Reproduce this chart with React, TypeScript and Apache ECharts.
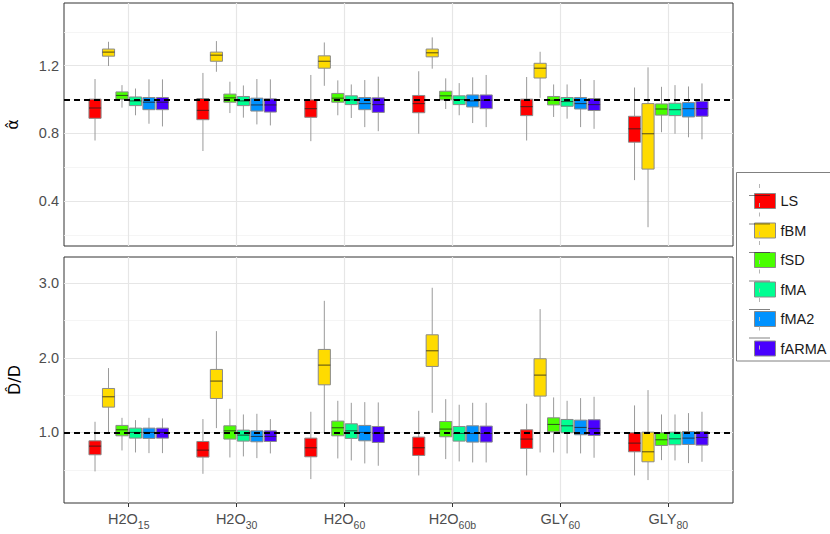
import React, { useEffect, useRef } from "react";
import * as echarts from "echarts";

// ---------- data ----------
const catMain = ["H2O", "H2O", "H2O", "H2O", "GLY", "GLY"];
const catSub = ["15", "30", "60", "60b", "60", "80"];
const methods = ["LS", "fBM", "fSD", "fMA", "fMA2", "fARMA"];
const colors = ["#FF0000", "#FFDB00", "#49FF00", "#00FF92", "#0092FF", "#4900FF"];

// each row: [lower whisker, Q1, median, Q3, upper whisker]
const alphaLS = [
  [0.758, 0.889, 0.95, 1.002, 1.121],
  [0.696, 0.881, 0.936, 1.006, 1.157],
  [0.754, 0.895, 0.946, 0.998, 1.145],
  [0.798, 0.922, 0.976, 1.024, 1.167],
  [0.758, 0.905, 0.958, 1.002, 1.133],
  [0.524, 0.748, 0.827, 0.901, 1.071],
];
const alphaFBM = [
  [1.198, 1.256, 1.28, 1.298, 1.341],
  [1.164, 1.226, 1.262, 1.28, 1.345],
  [1.081, 1.185, 1.226, 1.258, 1.337],
  [1.182, 1.252, 1.276, 1.298, 1.367],
  [1.01, 1.127, 1.185, 1.214, 1.282],
  [0.246, 0.589, 0.798, 0.976, 1.19],
];
const alphaFSD = [
  [0.952, 1.002, 1.024, 1.045, 1.085],
  [0.92, 0.984, 1.01, 1.032, 1.105],
  [0.907, 0.984, 1.008, 1.036, 1.113],
  [0.944, 0.998, 1.022, 1.049, 1.125],
  [0.897, 0.968, 0.996, 1.018, 1.089],
  [0.807, 0.908, 0.944, 0.974, 1.075],
];
const alphaFMA = [
  [0.907, 0.964, 0.992, 1.015, 1.065],
  [0.893, 0.964, 0.992, 1.018, 1.083],
  [0.891, 0.97, 0.998, 1.022, 1.089],
  [0.907, 0.97, 1.0, 1.022, 1.097],
  [0.887, 0.96, 0.988, 1.012, 1.089],
  [0.798, 0.905, 0.94, 0.978, 1.085],
];
const alphaFMA2 = [
  [0.857, 0.94, 0.984, 1.012, 1.119],
  [0.853, 0.932, 0.968, 1.008, 1.121],
  [0.837, 0.94, 0.976, 1.012, 1.115],
  [0.861, 0.956, 0.992, 1.027, 1.131],
  [0.837, 0.944, 0.976, 1.012, 1.121],
  [0.777, 0.897, 0.946, 0.982, 1.077],
];
const alphaFARMA = [
  [0.841, 0.94, 0.984, 1.012, 1.119],
  [0.847, 0.926, 0.968, 1.004, 1.119],
  [0.813, 0.924, 0.97, 1.01, 1.135],
  [0.837, 0.946, 0.996, 1.027, 1.145],
  [0.827, 0.935, 0.97, 1.006, 1.115],
  [0.765, 0.901, 0.946, 0.99, 1.095],
];

const dLS = [
  [0.478, 0.701, 0.817, 0.888, 1.143],
  [0.446, 0.67, 0.763, 0.879, 1.179],
  [0.375, 0.674, 0.795, 0.924, 1.277],
  [0.424, 0.692, 0.795, 0.938, 1.29],
  [0.424, 0.786, 0.911, 1.036, 1.384],
  [0.424, 0.741, 0.857, 0.996, 1.362],
];
const dFBM = [
  [1.0, 1.339, 1.478, 1.589, 1.862],
  [1.058, 1.455, 1.688, 1.844, 2.357],
  [1.0, 1.638, 1.902, 2.112, 2.763],
  [1.263, 1.884, 2.094, 2.308, 2.938],
  [0.732, 1.487, 1.768, 1.987, 2.652],
  [0.362, 0.607, 0.741, 1.004, 1.567],
];
const dFSD = [
  [0.759, 0.955, 1.036, 1.094, 1.196],
  [0.665, 0.911, 1.022, 1.089, 1.317],
  [0.652, 0.955, 1.063, 1.152, 1.424],
  [0.643, 0.942, 1.045, 1.147, 1.446],
  [0.732, 1.009, 1.107, 1.196, 1.469],
  [0.629, 0.826, 0.902, 0.996, 1.241],
];
const dFMA = [
  [0.732, 0.924, 1.0, 1.058, 1.165],
  [0.679, 0.884, 0.964, 1.031, 1.241],
  [0.625, 0.92, 1.022, 1.116, 1.397],
  [0.612, 0.884, 0.987, 1.08, 1.371],
  [0.719, 0.996, 1.089, 1.174, 1.424],
  [0.625, 0.835, 0.915, 1.004, 1.241],
];
const dFMA2 = [
  [0.723, 0.92, 1.0, 1.058, 1.196],
  [0.656, 0.875, 0.946, 1.022, 1.25],
  [0.585, 0.888, 1.0, 1.094, 1.406],
  [0.598, 0.871, 0.987, 1.089, 1.397],
  [0.719, 0.969, 1.067, 1.165, 1.46],
  [0.589, 0.839, 0.924, 1.013, 1.259],
];
const dFARMA = [
  [0.723, 0.924, 1.0, 1.058, 1.188],
  [0.719, 0.879, 0.946, 1.022, 1.179],
  [0.554, 0.866, 0.991, 1.08, 1.402],
  [0.598, 0.871, 0.987, 1.085, 1.397],
  [0.661, 0.96, 1.054, 1.17, 1.478],
  [0.607, 0.83, 0.933, 1.013, 1.277],
];

const alphaTicks = [0.4, 0.8, 1.2];
const alphaMinor = [0.2, 0.6, 1.0, 1.4];
const dTicks = [1.0, 2.0, 3.0];
const dMinor = [0.5, 1.5, 2.5];
const refValue = 1.0;

// ---------- styling constants ----------
const DODGE = 0.125;
const BOX_W = 0.1125;
const FONT = "'Liberation Sans', Arial, Helvetica, sans-serif";
const TITLE_FONT = "'DejaVu Sans', sans-serif";
const TICK_COLOR = "#4d4d4d";
const MAJOR = "#e6e6e6";
const MINOR = "#f2f2f2";

const alphaSets = [alphaLS, alphaFBM, alphaFSD, alphaFMA, alphaFMA2, alphaFARMA];
const dSets = [dLS, dFBM, dFSD, dFMA, dFMA2, dFARMA];

function makeRender(color: string) {
  return (params: any, api: any) => {
    const x = api.value(0);
    const lo = api.coord([x, api.value(1)]);
    const q1 = api.coord([x, api.value(2)]);
    const md = api.coord([x, api.value(3)]);
    const q3 = api.coord([x, api.value(4)]);
    const hi = api.coord([x, api.value(5)]);
    const w = api.size([BOX_W, 0])[0];
    const cx = lo[0];
    const wh = { stroke: "#9a9a9a", lineWidth: 1 };
    return {
      type: "group",
      children: [
        { type: "line", shape: { x1: cx, y1: hi[1], x2: cx, y2: q3[1] }, style: wh },
        { type: "line", shape: { x1: cx, y1: q1[1], x2: cx, y2: lo[1] }, style: wh },
        {
          type: "rect",
          shape: { x: cx - w / 2, y: q3[1], width: w, height: q1[1] - q3[1] },
          style: { fill: color, stroke: "#8a8a8a", lineWidth: 1 },
        },
        {
          type: "line",
          shape: { x1: cx - w / 2, y1: md[1], x2: cx + w / 2, y2: md[1] },
          style: { stroke: "rgba(30,30,30,0.7)", lineWidth: 1.1 },
        },
      ],
    };
  };
}

function boxSeries(sets: number[][][], gi: number) {
  return sets.map((rows, mi) => ({
    type: "custom",
    name: methods[mi],
    xAxisIndex: gi,
    yAxisIndex: gi,
    z: 3,
    itemStyle: { color: colors[mi] },
    renderItem: makeRender(colors[mi]),
    encode: { x: 0, y: [1, 2, 3, 4, 5] },
    data: rows.map((r, ci) => [ci + (mi - 2.5) * DODGE, ...r]),
  }));
}

function gridLineSeries(gi: number, major: number[], minor: number[]) {
  const data: any[] = [];
  minor.forEach((v) => data.push({ yAxis: v, lineStyle: { color: MINOR, width: 0.8, type: "solid" } }));
  major.forEach((v) => data.push({ yAxis: v, lineStyle: { color: MAJOR, width: 1.2, type: "solid" } }));
  catMain.forEach((_, ci) =>
    data.push({ xAxis: ci, lineStyle: { color: MAJOR, width: 1.2, type: "solid" } })
  );
  return {
    type: "line",
    name: "__grid" + gi,
    xAxisIndex: gi,
    yAxisIndex: gi,
    data: [],
    silent: true,
    markLine: {
      silent: true,
      z: 1,
      symbol: ["none", "none"],
      label: { show: false },
      emphasis: { disabled: true },
      data,
    },
  };
}

function refLineSeries(gi: number) {
  return {
    type: "line",
    name: "__ref" + gi,
    xAxisIndex: gi,
    yAxisIndex: gi,
    data: [],
    silent: true,
    markLine: {
      silent: true,
      z: 10,
      symbol: ["none", "none"],
      label: { show: false },
      emphasis: { disabled: true },
      lineStyle: { color: "#000", width: 1.8, type: [6, 4] },
      data: [{ yAxis: refValue }],
    },
  };
}

const LEG_TOP = 188;
const LEG_LEFT = 749;
const LEG_ITEM_H = 15;
const LEG_STEP = 28.5;
const LEG_ICON_W = 21;

function decorations() {
  const els: any[] = [
    {
      type: "rect",
      shape: { x: 736.5, y: 172.5, width: 100, height: 188.5 },
      style: { fill: "none", stroke: "#808080", lineWidth: 1 },
      z: 100,
    },
  ];
  methods.forEach((_, i) => {
    const cy = LEG_TOP + LEG_ITEM_H / 2 + i * LEG_STEP;
    const cx = LEG_LEFT + LEG_ICON_W / 2;
    els.push({
      type: "line",
      shape: { x1: cx, y1: cy - 11.5, x2: cx, y2: cy - 7.5 },
      style: { stroke: "#b5b5b5", lineWidth: 1 },
      z: 100,
    });
    els.push({
      type: "line",
      shape: { x1: cx, y1: cy + 7.5, x2: cx, y2: cy + 11.5 },
      style: { stroke: "#b5b5b5", lineWidth: 1 },
      z: 100,
    });
    els.push({
      type: "line",
      shape: { x1: LEG_LEFT, y1: cy, x2: LEG_LEFT + LEG_ICON_W, y2: cy },
      style: { stroke: "rgba(30,30,30,0.55)", lineWidth: 1 },
      z: 100,
    });
  });
  return els;
}

export default function App() {
  const ref = useRef<HTMLDivElement>(null);
  useEffect(() => {
    if (!ref.current) return;
    const chart = echarts.init(ref.current, undefined, { renderer: "svg" });
    const yAxisBase = {
      type: "value",
      axisLine: { show: false },
      axisTick: { show: true, length: 4, lineStyle: { color: "#333", width: 1 } },
      axisLabel: {
        color: TICK_COLOR,
        fontSize: 14.5,
        fontFamily: FONT,
        margin: 5,
        formatter: (v: number) => v.toFixed(1),
      },
      splitLine: { show: false },
      nameLocation: "middle",
      nameRotate: 90,
      nameTextStyle: { color: "#000", fontSize: 16, fontFamily: TITLE_FONT, lineHeight: 18 },
    };
    const gridBase = {
      left: 64,
      width: 669,
      show: true,
      borderColor: "#333",
      borderWidth: 1,
      backgroundColor: "#fff",
      containLabel: false,
      outerBoundsMode: "none",
    };
    const option: any = {
      animation: false,
      backgroundColor: "#fff",
      textStyle: { fontFamily: FONT },
      grid: [
        { ...gridBase, top: 3, height: 243 },
        { ...gridBase, top: 257, height: 246 },
      ],
      xAxis: [
        {
          type: "value",
          gridIndex: 0,
          min: -0.6,
          max: 5.6,
          axisLine: { show: false },
          axisTick: { show: false },
          axisLabel: { show: false },
          splitLine: { show: false },
        },
        {
          type: "value",
          gridIndex: 1,
          min: -0.6,
          max: 5.6,
          axisLine: { show: false },
          axisTick: { show: true, length: 4, customValues: [0, 1, 2, 3, 4, 5], lineStyle: { color: "#333" } },
          axisLabel: {
            show: true,
            customValues: [0, 1, 2, 3, 4, 5],
            margin: 7,
            formatter: (v: number) => {
              const i = Math.round(v);
              return `{m|${catMain[i]}}{s|${catSub[i]}}`;
            },
            rich: {
              m: { fontSize: 14.5, color: TICK_COLOR, fontFamily: FONT, lineHeight: 16, verticalAlign: "bottom" },
              s: { fontSize: 10.5, color: TICK_COLOR, fontFamily: FONT, lineHeight: 10, verticalAlign: "bottom", padding: [0, 0, -4, 0] },
            },
          },
          splitLine: { show: false },
        },
      ],
      yAxis: [
        {
          ...yAxisBase,
          gridIndex: 0,
          min: 0.135,
          max: 1.57,
          name: "α\u0302",
          nameGap: 43,
          axisTick: { ...yAxisBase.axisTick, customValues: alphaTicks },
          axisLabel: { ...yAxisBase.axisLabel, customValues: alphaTicks },
        },
        {
          ...yAxisBase,
          gridIndex: 1,
          min: 0.055,
          max: 3.35,
          name: "D\u0302/D",
          nameGap: 41,
          axisTick: { ...yAxisBase.axisTick, customValues: dTicks },
          axisLabel: { ...yAxisBase.axisLabel, customValues: dTicks },
        },
      ],
      legend: {
        orient: "vertical",
        left: LEG_LEFT,
        top: LEG_TOP,
        itemWidth: LEG_ICON_W,
        itemHeight: LEG_ITEM_H,
        itemGap: LEG_STEP - LEG_ITEM_H,
        icon: "rect",
        data: methods,
        selectedMode: false,
        itemStyle: { borderColor: "#8a8a8a", borderWidth: 1 },
        textStyle: { fontSize: 14.5, color: "#1a1a1a", fontFamily: FONT, lineHeight: LEG_ITEM_H },
      },
      graphic: decorations(),
      series: [
        gridLineSeries(0, alphaTicks, alphaMinor),
        gridLineSeries(1, dTicks, dMinor),
        ...boxSeries(alphaSets, 0),
        ...boxSeries(dSets, 1),
        refLineSeries(0),
        refLineSeries(1),
      ],
    };
    chart.setOption(option);
    return () => chart.dispose();
  }, []);
  return (
    <div
      ref={ref}
      style={{ position: "absolute", left: 0, top: 0, width: 830, height: 534 }}
    />
  );
}
